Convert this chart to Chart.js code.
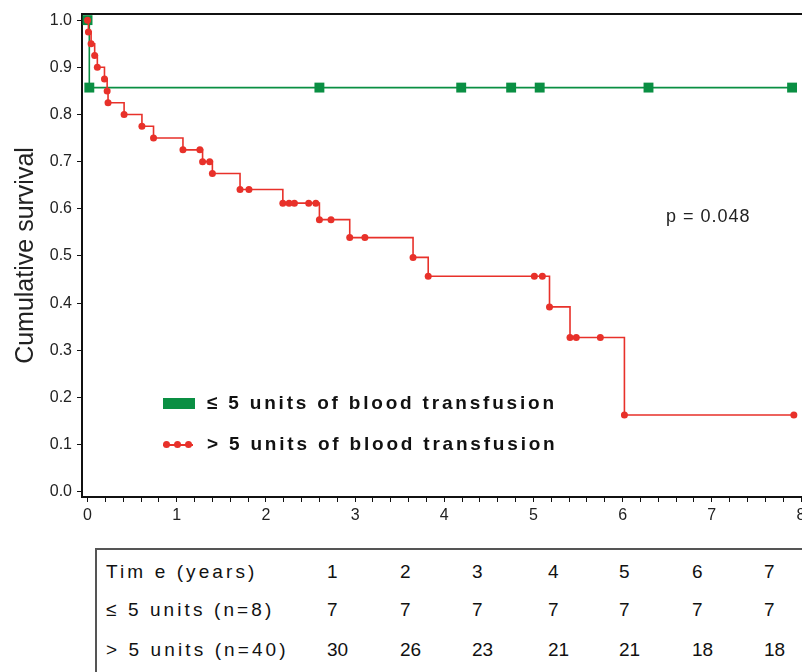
<!DOCTYPE html>
<html>
<head>
<meta charset="utf-8">
<script src="https://cdn.jsdelivr.net/npm/chart.js@4.4.1/dist/chart.umd.min.js"></script>
<style>
  html, body { margin:0; padding:0; background:#fff; }
  body { width:802px; height:672px; overflow:hidden; position:relative; font-family:"Liberation Sans", Arial, sans-serif; }
  #wrap { position:absolute; left:0; top:0; width:808px; height:535px; }
  .lg { position:absolute; font-weight:bold; font-size:19px; line-height:22px; letter-spacing:2.8px; color:#111; white-space:nowrap; }
  .pv { position:absolute; font-size:18px; line-height:22px; letter-spacing:1px; color:#222; white-space:nowrap; }
  #tbl { position:absolute; left:95px; top:548px; width:740px; height:140px; border:2px solid #555; box-sizing:border-box; }
  .tc { position:absolute; font-size:19px; line-height:24px; color:#111; white-space:nowrap; }
  .tl { letter-spacing:3.1px; }
</style>
</head>
<body>
<div id="wrap"><canvas id="c"></canvas></div>

<div style="position:absolute;left:163px;top:398px;width:32px;height:11px;background:#0a8f43"></div>
<div class="lg" style="left:207px;top:392px">≤ 5 units of blood transfusion</div>
<div style="position:absolute;left:163px;top:444px;width:30px;height:2px;background:#e8312a"></div>
<div style="position:absolute;left:163px;top:441px;width:7px;height:7px;border-radius:4px;background:#e8312a"></div>
<div style="position:absolute;left:174px;top:441px;width:7px;height:7px;border-radius:4px;background:#e8312a"></div>
<div style="position:absolute;left:185px;top:441px;width:7px;height:7px;border-radius:4px;background:#e8312a"></div>
<div class="lg" style="left:207px;top:433px">&gt; 5 units of blood transfusion</div>
<div class="pv" style="left:666px;top:205px">p = 0.048</div>

<div id="tbl"></div>
<div id="cells"></div>

<script>
// ---- Data ----
const redTimes = [0, 0.01, 0.04, 0.08, 0.11, 0.19, 0.22, 0.23, 0.41, 0.61, 0.74, 1.07, 1.26, 1.29, 1.37, 1.40, 1.71, 1.81, 2.19, 2.26, 2.32, 2.48, 2.56, 2.60, 2.73, 2.94, 3.11, 3.65, 3.82, 5.01, 5.10, 5.18, 5.41, 5.48, 5.75, 6.02, 7.92];
const redSurv  = [1.0, 0.975, 0.95, 0.925, 0.90, 0.875, 0.85, 0.825, 0.80, 0.775, 0.75, 0.725, 0.725, 0.70, 0.70, 0.675, 0.641, 0.641, 0.612, 0.612, 0.612, 0.612, 0.612, 0.577, 0.577, 0.539, 0.539, 0.497, 0.457, 0.457, 0.457, 0.392, 0.327, 0.327, 0.327, 0.163, 0.163];
const greenTimes = [0, 0.02, 2.60, 4.19, 4.75, 5.07, 6.29, 7.90];
const greenSurv  = [1.0, 0.857, 0.857, 0.857, 0.857, 0.857, 0.857, 0.857];

const tableTimes = ['1', '2', '3', '4', '5', '6', '7'];
const atRiskLow  = ['7', '7', '7', '7', '7', '7', '7'];
const atRiskHigh = ['30', '26', '23', '21', '21', '18', '18'];
const rowLabels  = ['Tim e (years)', '≤ 5 units (n=8)', '> 5 units (n=40)'];

// ---- Table (text) ----
const colLeft = [327, 400, 472, 548, 619, 692, 764];
const rowTop = [560, 598, 638];
const cells = document.getElementById('cells');
function addCell(txt, left, top, cls) {
  const d = document.createElement('div');
  d.className = 'tc ' + (cls || '');
  d.style.left = left + 'px';
  d.style.top = top + 'px';
  d.textContent = txt;
  cells.appendChild(d);
}
const rows = [tableTimes, atRiskLow, atRiskHigh];
rows.forEach((r, ri) => {
  addCell(rowLabels[ri], 106, rowTop[ri], 'tl');
  r.forEach((v, ci) => addCell(v, colLeft[ci], rowTop[ri], ''));
});

// ---- Chart ----
const RED = '#e8312a';
const GREEN = '#0a8f43';
const FONT = '"Liberation Sans", Arial, sans-serif';

const topBorder = {
  id: 'topBorder',
  afterDraw(chart) {
    const {ctx, chartArea} = chart;
    ctx.save();
    ctx.strokeStyle = '#111';
    ctx.lineWidth = 2;
    ctx.beginPath();
    ctx.moveTo(chartArea.left - 1, chartArea.top);
    ctx.lineTo(chartArea.right + 10, chartArea.top);
    ctx.stroke();
    ctx.restore();
  }
};

new Chart(document.getElementById('c'), {
  type: 'line',
  data: {
    datasets: [
      {
        label: '> 5 units of blood transfusion',
        data: redTimes.map((t, i) => ({x: t, y: redSurv[i]})),
        borderColor: RED,
        backgroundColor: RED,
        borderWidth: 1.6,
        stepped: 'before',
        pointStyle: 'circle',
        pointRadius: 3.5,
        pointBorderWidth: 0,
        fill: false
      },
      {
        label: '≤ 5 units of blood transfusion',
        data: greenTimes.map((t, i) => ({x: t, y: greenSurv[i]})),
        borderColor: GREEN,
        backgroundColor: GREEN,
        borderWidth: 1.6,
        stepped: 'before',
        pointStyle: 'rect',
        pointRadius: 7,
        pointBorderWidth: 0,
        fill: false
      }
    ]
  },
  options: {
    responsive: true,
    maintainAspectRatio: false,
    animation: false,
    devicePixelRatio: 1,
    layout: { padding: { top: 14, right: 0, left: 0, bottom: 0 } },
    plugins: { legend: { display: false }, tooltip: { enabled: false } },
    scales: {
      x: {
        type: 'linear',
        min: -0.062,
        max: 8.0,
        afterFit: (s) => { s.height = 38; s.paddingRight = 0; s.paddingLeft = 0; },
        border: { display: true, color: '#111', width: 2 },
        grid: { drawOnChartArea: false, drawTicks: true, tickLength: 5, color: '#111', tickWidth: 1 },
        ticks: {
          stepSize: 0.2,
          includeBounds: false,
          autoSkip: false,
          maxRotation: 0,
          padding: 4,
          color: '#222',
          font: { family: FONT, size: 16 },
          callback: (v) => Math.abs(v - Math.round(v)) < 1e-6 ? String(Math.round(v)) : ''
        }
      },
      y: {
        type: 'linear',
        min: -0.011,
        max: 1.013,
        afterFit: (s) => { s.width = 82; s.paddingTop = 0; s.paddingBottom = 0; },
        border: { display: true, color: '#111', width: 2 },
        grid: { drawOnChartArea: false, drawTicks: true, tickLength: 5, color: '#111', tickWidth: 1 },
        title: {
          display: true,
          text: 'Cumulative survival',
          color: '#222',
          font: { family: FONT, size: 25 },
          padding: { top: 11, bottom: 0 }
        },
        ticks: {
          stepSize: 0.1,
          includeBounds: false,
          autoSkip: false,
          padding: 5,
          color: '#222',
          font: { family: FONT, size: 16 },
          callback: (v) => v.toFixed(1)
        }
      }
    }
  },
  plugins: [topBorder]
});
</script>
</body>
</html>
